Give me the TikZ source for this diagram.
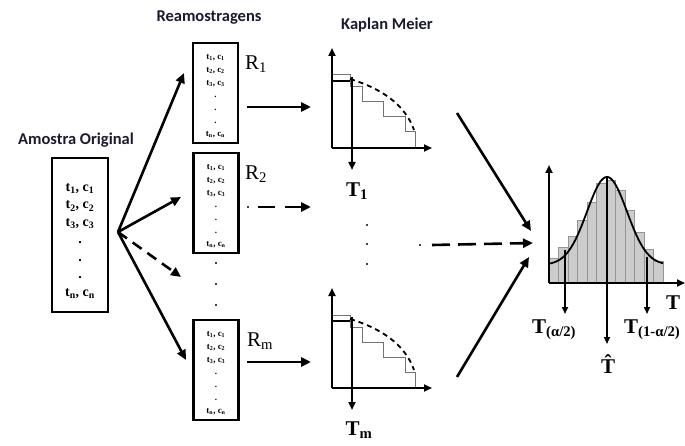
\documentclass[tikz,border=0pt]{standalone}
\usepackage{fontspec}
\setmainfont{Liberation Serif}
\newfontfamily\titlefont{Carlito}
\usetikzlibrary{arrows.meta}
\definecolor{titlecol}{HTML}{1A1A30}
\newcommand\rlistcontent{t\textsubscript{1}, c\textsubscript{1}\\t\textsubscript{2}, c\textsubscript{2}\\t\textsubscript{3}, c\textsubscript{3}\\.\\.\\.\\t\textsubscript{n}, c\textsubscript{n}}
\tikzset{
  arr/.style={line width=2.6pt, -{Triangle[length=10pt,width=9pt]}},
  darr/.style={arr, dash pattern=on 11pt off 7pt},
  axarr/.style={line width=2.3pt, -{Triangle[length=8pt,width=7pt]}},
  thinarr/.style={line width=1.6pt, -{Triangle[length=7pt,width=6pt]}},
  bigbox/.style={draw, line width=2.4pt, minimum width=56pt, minimum height=154pt, inner sep=0pt},
  rbox/.style={draw, line width=2.4pt, minimum width=45pt, minimum height=100pt, inner sep=0pt},
  ttl/.style={font=\titlefont\bfseries\fontsize{16.5}{18}\selectfont, text=titlecol},
  biglist/.style={font=\bfseries\fontsize{14}{17.5}\selectfont, align=center, inner sep=0pt},
  smalllist/.style={font=\bfseries\fontsize{9}{12.8}\selectfont, align=center, inner sep=0pt},
  rlab/.style={font=\fontsize{21}{21}\selectfont, inner sep=0pt},
  tlab/.style={font=\bfseries\fontsize{21}{21}\selectfont, inner sep=0pt},
  stair/.style={draw=black!55, line width=1pt},
  kmcurve/.style={line width=1.8pt, dash pattern=on 5pt off 4pt},
  bar/.style={fill=black!20, draw=black!42, line width=0.8pt},
  dotn/.style={circle, fill=black, inner sep=0pt, minimum size=2.2pt},
}
\begin{document}
\begin{tikzpicture}[x=1pt,y=-1pt]
\useasboundingbox (0,0) rectangle (685,446);
% titles
\node[ttl] (t0) at (76,140) {Amostra Original};
\node[ttl] (t1) at (209,18) {Reamostragens};
\node[ttl] (t2) at (387,25) {Kaplan Meier};
% original sample
\node[bigbox] (orig) at (80,235) {};
\node[biglist] (origtxt) at (80,241) {\rlistcontent};
% resamples
\node[rbox] (r1) at (215.5,93) {};
\node[smalllist] (r1t) at (215.5,96) {\rlistcontent};
\node[rlab] (r1l) at (256,64) {R\textsubscript{1}};
\node[rbox] (r2) at (216,203) {};
\node[smalllist] (r2t) at (216,206) {\rlistcontent};
\node[rlab] (r2l) at (256,174) {R\textsubscript{2}};
\node[rbox] (rm) at (216,370) {};
\node[smalllist] (rmt) at (216,373) {\rlistcontent};
\node[rlab] (rml) at (260,341) {R\textsubscript{m}};
\node[dotn] (vd1) at (216,263) {};
\node[dotn] (vd2) at (216,284) {};
\node[dotn] (vd3) at (216,305) {};
% fan arrows
\coordinate (fan) at (118,232);
\coordinate (f1) at (184,73);
\coordinate (f2) at (181,197);
\coordinate (f3) at (181,277);
\coordinate (f4) at (186,360);
\draw[arr] (fan) -- (f1);
\draw[arr] (fan) -- (f2);
\draw[darr] (fan) -- (f3);
\draw[arr] (fan) -- (f4);
% resample -> KM arrows
\coordinate (a1s) at (247,107);
\coordinate (a1e) at (311,107);
\draw[arr] (a1s) -- (a1e);
\node[dotn] (d2) at (248,207) {};
\coordinate (a2s) at (258,207);
\coordinate (a2e) at (311,207);
\draw[arr, dash pattern=on 17pt off 10pt] (a2s) -- (a2e);
\coordinate (ams) at (247,362);
\coordinate (ame) at (311,362);
\draw[arr] (ams) -- (ame);
% KM plots
\foreach \dy in {0,240}{
\begin{scope}[shift={(0,\dy)}]
  \draw[stair] (332,75) -- (350,75) -- (350,87) -- (362,87) -- (362,102) -- (383,102) -- (383,117) -- (405,117) -- (405,132) -- (415,132) -- (415,148);
  \draw[kmcurve] (350,79) .. controls (380,88) and (405,104) .. (414,130);
  \draw[line width=2.3pt] (332,81) -- (350,81);
  \draw[axarr] (332,148) -- (332,48);
  \draw[axarr] (332,148) -- (432,148);
  \draw[axarr] (352,77) -- (352,170);
\end{scope}
}
\node[tlab] (T1) at (357,191) {T\textsubscript{1}};
\node[tlab] (Tm) at (359,430) {T\textsubscript{m}};
\node[dotn] (kd1) at (367,225) {};
\node[dotn] (kd2) at (367,244) {};
\node[dotn] (kd3) at (367,264) {};
% KM -> histogram arrows
\coordinate (h1s) at (457,113);
\coordinate (h1e) at (531,231);
\draw[arr] (h1s) -- (h1e);
\node[dotn] (hd) at (420,245) {};
\coordinate (h2s) at (432,245);
\coordinate (h2e) at (533,243);
\draw[arr, dash pattern=on 18pt off 8pt] (h2s) -- (h2e);
\coordinate (h3s) at (457,377);
\coordinate (h3e) at (529,257);
\draw[arr] (h3s) -- (h3e);
% histogram
\foreach \xa/\top in {549/258,558.5/247,568/236,577.5/220,587/202,596.5/183,606/180,615.5/190,625/210,634.5/232,644/249,653.5/261}{
  \draw[bar] (\xa,283) rectangle ++(9.5,\top-283);
}
\draw[line width=1.8pt, domain=549:663, samples=90, smooth] plot (\x,{265-88*exp(-(\x-607)*(\x-607)/800)});
\draw[axarr] (549,283) -- (549,165);
\draw[axarr] (549,283) -- (685,283);
\draw[thinarr] (565,250) -- (565,314);
\draw[thinarr] (647,257) -- (647,314);
\draw[thinarr] (607,178) -- (607,344);
\node[tlab] (Tax) at (673,303) {T};
\node[tlab, anchor=west] (Tlo) at (532,330) {T\textsubscript{(α/2)}};
\node[tlab, anchor=west] (Thi) at (624,330) {T\textsubscript{(1-α/2)}};
\node[tlab] (That) at (608,364) {\^{T}};
\end{tikzpicture}
\end{document}
